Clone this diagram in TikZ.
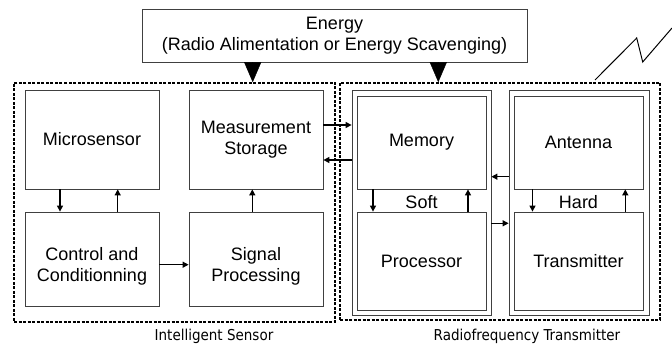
\documentclass[tikz,border=0pt]{standalone}
\usepackage{fontspec}
\setmainfont{Liberation Sans}
\newfontfamily\labfont{DejaVu Sans Condensed}
\usetikzlibrary{arrows.meta}
\begin{document}
\begin{tikzpicture}[x=1pt,y=-1pt,
  box/.style={draw=black!75, line width=0.8pt, rectangle, inner sep=0pt, align=center,
    font=\fontsize{18}{21}\selectfont},
  outerbox/.style={draw=black!75, line width=0.8pt, rectangle, inner sep=0pt},
  dbox/.style={draw=black, line width=1.5pt, dash pattern=on 3pt off 1.5pt, rectangle, inner sep=0pt},
  arr/.style={draw=black, line width=1.3pt, -{Triangle[length=6pt,width=6pt]}},
  bigarr/.style={draw=black, line width=0.5pt, -{Triangle[length=20pt,width=17pt]}},
  lab/.style={font=\labfont\fontsize{15}{18}\selectfont, inner sep=0pt},
  txt/.style={font=\fontsize{18}{21}\selectfont, inner sep=0pt}]
\useasboundingbox (0,0) rectangle (672,344);
% dashed containers
\node[dbox, minimum width=321pt, minimum height=239pt] (ld) at (174.5,202.5) {};
\node[dbox, minimum width=320pt, minimum height=237pt] (rd) at (500,201.5) {};
% energy
\node[box, minimum width=385pt, minimum height=53pt] (en) at (334.5,35.5) {Energy\\(Radio Alimentation or Energy Scavenging)};
% sensor boxes
\node[box, minimum width=134pt, minimum height=99pt] (micro) at (92,139.5) {Microsensor};
\node[box, minimum width=134pt, minimum height=99pt] (meas) at (256,139.5) {Measurement\\Storage};
\node[box, minimum width=134pt, minimum height=94pt] (ctrl) at (92,259) {};
\node[box, minimum width=134pt, minimum height=94pt] (sig) at (256,259) {};
\node[txt, align=center] (ctrlt) at (92,266) {Control and\\Conditionning};
\node[txt, align=center] (sigt) at (256,266) {Signal\\Processing};
% transmitter
\node[outerbox, minimum width=139pt, minimum height=225pt] (soft) at (421.5,202.5) {};
\node[outerbox, minimum width=140pt, minimum height=225pt] (hard) at (579,202.5) {};
\node[box, minimum width=129pt, minimum height=93pt] (mem) at (421.5,142.5) {Memory};
\node[box, minimum width=129pt, minimum height=98pt] (proc) at (421.5,261) {Processor};
\node[box, minimum width=129pt, minimum height=93pt] (ant) at (578.5,142.5) {Antenna};
\node[box, minimum width=129pt, minimum height=98pt] (trans) at (578.5,261) {Transmitter};
\node[txt] (softt) at (421.5,202) {Soft};
\node[txt] (hardt) at (578.5,202) {Hard};
% labels
\node[lab] (ls) at (214,336) {Intelligent Sensor};
\node[lab] (lr) at (527,336) {Radiofrequency Transmitter};
% energy arrows
\coordinate (e1) at ([xshift=-81.8pt]en.south);
\coordinate (e2) at ([xshift=103.8pt]en.south);
\draw[bigarr] (e1) -- (e1 |- ld.north);
\draw[bigarr] (e2) -- (e2 |- rd.north);
% sensor arrows
\draw[arr] ([xshift=-32pt]micro.south) -- ([xshift=-32pt]ctrl.north);
\draw[arr] ([xshift=25.7pt]ctrl.north) -- ([xshift=25.7pt]micro.south);
\draw[arr] ([xshift=-3.7pt]sig.north) -- ([xshift=-3.7pt]meas.south);
\coordinate (c1) at ([yshift=-5.7pt]ctrl.east);
\draw[arr] (c1) -- (c1 -| sig.west);
% sensor <-> soft
\coordinate (m1) at ([yshift=14.5pt]meas.east);
\coordinate (m2) at ([yshift=-20.5pt]meas.east);
\draw[arr] (m1) -- (m1 -| soft.west);
\draw[arr] (m2 -| soft.west) -- (m2);
% soft internal
\draw[arr] ([xshift=-48.5pt]mem.south) -- ([xshift=-48.5pt]proc.north);
\draw[arr] ([xshift=46.5pt]proc.north) -- ([xshift=46.5pt]mem.south);
% hard internal
\draw[arr] ([xshift=-46pt]ant.south) -- ([xshift=-46pt]trans.north);
\draw[arr] ([xshift=46.8pt]trans.north) -- ([xshift=46.8pt]ant.south);
% soft <-> hard
\coordinate (h1) at (hard.west |- 0,176.7);
\coordinate (h2) at (soft.east |- 0,223.3);
\draw[arr] (h1) -- (h1 -| soft.east);
\draw[arr] (h2) -- (h2 -| hard.west);
% lightning
\coordinate (z0) at (595,80);
\coordinate (z1) at (636.7,38);
\coordinate (z2) at (642.7,62);
\coordinate (z3) at (672,28);
\draw[line width=1pt] (z0) -- (z1) -- (z2) -- (z3);
\end{tikzpicture}
\end{document}
